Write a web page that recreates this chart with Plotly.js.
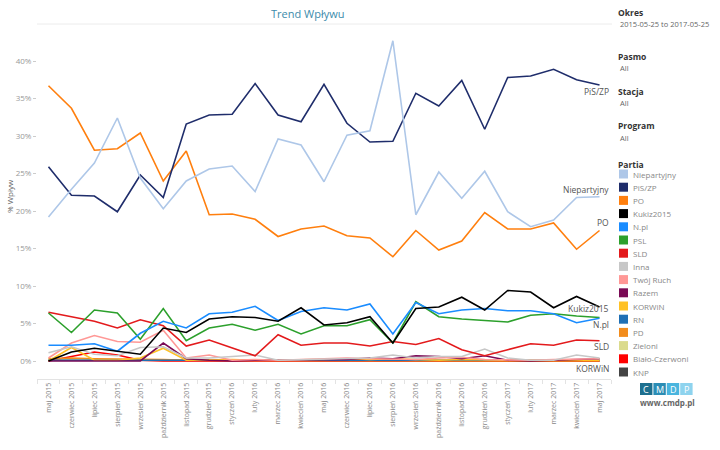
<!DOCTYPE html>
<html>
<head>
<meta charset="utf-8">
<script src="https://cdn.plot.ly/plotly-3.0.1.min.js"></script>
<style>html,body{margin:0;padding:0;background:#fff;}#chart{width:720px;height:450px;}</style>
</head>
<body>
<div id="chart"></div>
<script>
var months = ["maj 2015","czerwiec 2015","lipiec 2015","sierpień 2015","wrzesień 2015","październik 2015","listopad 2015","grudzień 2015","styczeń 2016","luty 2016","marzec 2016","kwiecień 2016","maj 2016","czerwiec 2016","lipiec 2016","sierpień 2016","wrzesień 2016","październik 2016","listopad 2016","grudzień 2016","styczeń 2017","luty 2017","marzec 2017","kwiecień 2017","maj 2017"];

var niepartyjny = [19.2,22.9,26.4,32.4,24.4,20.3,24.0,25.6,26.0,22.6,29.6,28.8,23.9,30.1,30.7,42.7,19.5,25.2,21.7,25.3,19.9,17.9,18.8,21.8,21.9];
var pisZp      = [25.9,22.1,22.0,19.9,24.8,21.8,31.6,32.8,32.9,37.0,32.8,31.9,36.9,31.7,29.2,29.3,35.7,34.0,37.4,30.9,37.8,38.0,38.9,37.5,36.8];
var po         = [36.7,33.7,28.1,28.3,30.4,24.0,28.0,19.5,19.6,18.9,16.6,17.6,18.0,16.7,16.4,13.9,17.4,14.8,16.0,19.8,17.6,17.6,18.4,14.9,17.4];
var kukiz      = [0.0,1.2,1.7,1.3,0.9,4.4,3.8,5.6,5.9,5.8,5.3,7.1,4.8,5.1,5.9,2.4,7.0,7.2,8.5,6.8,9.4,9.2,7.1,8.6,7.2];
var npl        = [2.1,2.1,2.3,1.3,3.7,5.3,4.4,6.3,6.5,7.3,5.4,6.6,7.1,6.8,7.6,3.6,7.8,6.3,6.8,7.0,6.7,6.7,6.3,5.1,5.7];
var psl        = [6.4,3.8,6.8,6.4,2.9,7.0,2.7,4.4,4.9,4.1,4.9,3.6,4.7,4.7,5.5,2.4,7.9,5.9,5.6,5.4,5.2,6.1,6.3,6.0,5.8];
var sld        = [6.5,5.9,5.3,4.4,5.5,4.7,2.0,2.8,1.8,0.7,3.5,2.1,2.4,2.4,2.0,2.6,2.2,3.0,1.5,0.7,1.5,2.3,2.1,2.8,2.7];
var inna       = [1.1,1.9,0.9,0.7,1.8,1.9,0.4,0.4,0.6,0.8,0.1,0.2,0.3,0.3,0.4,0.8,0.4,0.6,0.6,1.6,0.4,0.1,0.1,0.8,0.4];
var twojRuch   = [0.4,2.4,3.4,2.6,2.5,4.1,0.4,0.8,0.1,0.2,0.1,0.2,0.3,0.4,0.3,0.2,0.2,0.4,0.5,0.2,0.1,0.1,0.2,0.2,0.3];
var razem      = [0.0,0.0,0.0,0.0,0.0,2.4,0.3,0.1,0.0,0.1,0.1,0.1,0.2,0.2,0.4,0.3,0.7,0.6,0.3,0.7,0.1,0.0,0.1,0.2,0.3];
var korwin     = [0.0,1.8,0.1,0.1,0.4,1.7,0.1,0.2,0.2,0.1,0.1,0.2,0.2,0.3,0.2,0.3,0.2,0.1,0.2,0.1,0.1,0.1,0.1,0.1,0.1];
var rn         = [0.1,0.1,0.1,0.1,0.1,0.1,0.2,0.1,0.1,0.1,0.1,0.1,0.1,0.1,0.1,0.1,0.2,0.1,0.1,0.1,0.1,0.1,0.1,0.1,0.1];
var pd         = [0.3,0.4,0.3,0.3,0.3,0.2,0.1,0.1,0.1,0.1,0.0,0.0,0.0,0.0,0.0,0.0,0.0,0.0,0.0,0.0,0.0,0.0,0.0,0.0,0.0];
var zieloni    = [0.1,0.1,0.1,0.1,0.1,0.1,0.1,0.1,0.1,0.1,0.1,0.1,0.1,0.1,0.1,0.1,0.1,0.1,0.1,0.1,0.1,0.1,0.1,0.1,0.1];
var bialoCzerwoni = [0.0,0.6,1.2,0.8,0.1,0.0,0.0,0.0,0.0,0.0,0.0,0.0,0.0,0.0,0.0,0.0,0.0,0.0,0.0,0.0,0.0,0.0,0.0,0.0,0.0];
var knp        = [0.1,0.1,0.0,0.0,0.0,0.0,0.0,0.0,0.0,0.0,0.0,0.0,0.0,0.0,0.0,0.0,0.0,0.0,0.0,0.0,0.0,0.0,0.0,0.0,0.0];

var partyNames = ["Niepartyjny","PiS/ZP","PO","Kukiz2015","N.pl","PSL","SLD","Inna","Twój Ruch","Razem","KORWiN","RN","PD","Zieloni","Biało-Czerwoni","KNP"];
var partyValues = [niepartyjny,pisZp,po,kukiz,npl,psl,sld,inna,twojRuch,razem,korwin,rn,pd,zieloni,bialoCzerwoni,knp];
var partyColors = ["#aec7e8","#1f2d6b","#ff7f0e","#000000","#1a8cff","#2ca02c","#e31a1c","#c7c7c7","#ff9896","#7a0a55","#ffc125","#1f6fb4","#f28c1c","#dbdb8d","#ff0000","#444444"];
var endLabels = {"PiS/ZP":-6,"Niepartyjny":7,"PO":8,"Kukiz2015":-1,"N.pl":-6,"SLD":-6,"KORWiN":-8};

var headerLabels = ["Okres","Pasmo","Stacja","Program","Partia"];
var headerValues = ["2015-05-25 to 2017-05-25","All","All","All",""];

// layout geometry (pixels)
var L=37, R=109, T=31, B=71, W=720, H=450;
var pw = W-L-R, ph = H-T-B;
function px(x){return (x-L)/pw;}
function py(y){return (H-B-y)/ph;}

var FONT = "Open Sans, Noto Sans, sans-serif";

var traces = [];
var order = [15,14,13,12,11,10,9,8,7,6,5,4,3,2,1,0];
order.forEach(function(i){
  traces.push({
    type:"scatter", mode:"lines", name:partyNames[i],
    x:months, y:partyValues[i],
    line:{color:partyColors[i], width:1.6},
    showlegend:false, hoverinfo:"skip"
  });
});

var annotations = [];
var shapes = [];

// title
annotations.push({xref:"paper",yref:"paper",x:px(308),y:py(14),text:"Trend Wpływu",showarrow:false,
  xanchor:"center",yanchor:"middle",font:{family:FONT,size:11,color:"#3d8bab"}});
shapes.push({type:"line",xref:"paper",yref:"paper",x0:px(37),x1:px(612),y0:py(24),y1:py(24),line:{color:"#ececec",width:1}});

// y axis title
annotations.push({xref:"paper",yref:"paper",x:px(9),y:py(196),text:"% Wpływ",showarrow:false,textangle:-90,
  xanchor:"center",yanchor:"middle",font:{family:FONT,size:8,color:"#666"}});

// end-of-line labels
partyNames.forEach(function(n,i){
  if(endLabels.hasOwnProperty(n)){
    var v = partyValues[i];
    annotations.push({xref:"x",yref:"y",x:months[months.length-1],y:v[v.length-1],text:n,showarrow:false,
      xanchor:"right",yanchor:"middle",xshift:11,yshift:endLabels[n],font:{family:FONT,size:8.5,color:"#555"}});
  }
});

// right panel headers
var headerY = [12,56,91,126,164];
headerLabels.forEach(function(h,k){
  annotations.push({xref:"paper",yref:"paper",x:px(616),y:py(headerY[k]),text:"<b>"+h+"</b>",showarrow:false,
    xanchor:"left",yanchor:"middle",font:{family:FONT,size:8.5,color:"#333"}});
  if(headerValues[k]){
    annotations.push({xref:"paper",yref:"paper",x:px(618),y:py(headerY[k]+12),text:headerValues[k],showarrow:false,
      xanchor:"left",yanchor:"middle",font:{family:FONT,size:7.5,color:"#666"}});
  }
});

// legend
partyNames.forEach(function(n,i){
  var yc = 174 + i*13.2;
  shapes.push({type:"rect",xref:"paper",yref:"paper",x0:px(619),x1:px(628),y0:py(yc+4.5),y1:py(yc-4.5),
    fillcolor:partyColors[i],line:{width:0}});
  annotations.push({xref:"paper",yref:"paper",x:px(631),y:py(yc),text:n,showarrow:false,
    xanchor:"left",yanchor:"middle",font:{family:FONT,size:8,color:"#888"}});
});

// logo
var logoLetters = ["C","M","D","P"];
var logoColors = ["#1d6f8e","#2b8db5","#4ab5de","#8ed3ee"];
logoLetters.forEach(function(c,k){
  var x0 = 640 + k*13.4;
  shapes.push({type:"rect",xref:"paper",yref:"paper",x0:px(x0),x1:px(x0+12.4),y0:py(395),y1:py(383),
    fillcolor:logoColors[k],line:{width:0}});
  annotations.push({xref:"paper",yref:"paper",x:px(x0+6.2),y:py(389),text:c,showarrow:false,
    xanchor:"center",yanchor:"middle",font:{family:FONT,size:9,color:"#fff"}});
});
annotations.push({xref:"paper",yref:"paper",x:px(667),y:py(402),text:"<b>www.cmdp.pl</b>",showarrow:false,
  xanchor:"center",yanchor:"middle",font:{family:FONT,size:8,color:"#666"}});

var layout = {
  width:W, height:H,
  margin:{l:L,r:R,t:T,b:B,pad:0},
  paper_bgcolor:"#fff", plot_bgcolor:"#fff",
  showlegend:false,
  xaxis:{type:"category", range:[-0.5,24.5], showgrid:false, zeroline:false,
    showline:true, linecolor:"#e3e3e3", linewidth:1,
    ticks:"outside", tickson:"boundaries", ticklen:4, tickcolor:"#e3e3e3",
    tickangle:-90, tickfont:{family:FONT,size:7,color:"#888"}, fixedrange:true},
  yaxis:{range:[-2.4,44], showgrid:false, zeroline:false, showline:false,
    tick0:0, dtick:5, ticksuffix:"%", ticks:"outside", ticklen:3, tickcolor:"#ccc",
    tickfont:{family:FONT,size:8,color:"#999"}, fixedrange:true},
  annotations:annotations,
  shapes:shapes
};

Plotly.newPlot("chart", traces, layout, {displayModeBar:false, staticPlot:true});
</script>
</body>
</html>
